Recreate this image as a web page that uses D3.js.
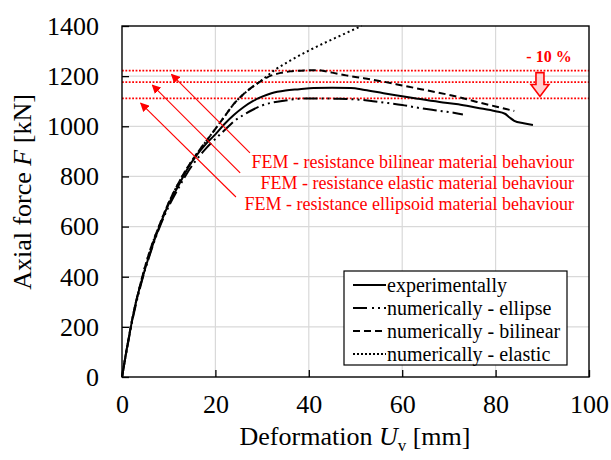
<!DOCTYPE html>
<html><head><meta charset="utf-8">
<script src="https://cdn.jsdelivr.net/npm/d3@7"></script>
<style>body{margin:0;background:#fff}svg{display:block}svg text{font-family:"Liberation Serif","Times New Roman",serif}</style>
</head><body><svg id="c" width="611" height="460" font-family="Liberation Serif, Times New Roman, serif"></svg>
<script>
// ---- data ----
const xTicks = [0, 20, 40, 60, 80, 100];
const yTicks = [0, 200, 400, 600, 800, 1000, 1200, 1400];
const experimental = [[0,0],[1,110],[2,210],[3,300],[4,370],[6,495],[8,600],[10,690],[12,760],[14,830],[16,885],[18,930],[20,968],[22,1010],[24,1046],[26,1076],[28,1100],[30,1118],[32,1132],[35,1143],[38,1148],[41,1153],[45,1154],[49,1153],[52,1145],[56,1132],[60,1120],[63,1111],[68,1097],[72,1088],[76,1074],[80,1060],[82,1050],[83,1035],[84,1022],[86,1012],[88,1005]];
const ellipse = [[0,0],[1,105],[2,205],[4,365],[6,490],[8,595],[10,680],[12,750],[14,815],[16,868],[18,912],[20,950],[22,985],[24,1020],[26,1045],[28,1066],[30,1083],[32,1094],[35,1103],[38,1110],[42,1111],[46,1110],[50,1107],[53,1102],[56,1095],[60,1085],[63,1075],[67,1064],[71,1054],[73,1047]];
const bilinear = [[0,0],[1,110],[2,212],[4,375],[6,505],[8,605],[10,695],[12,770],[14,835],[16,890],[18,940],[20,990],[22,1040],[24,1090],[26,1128],[28,1158],[30,1183],[32,1203],[34,1213],[36,1219],[39,1223],[42,1224],[45,1214],[48,1203],[52,1191],[56,1178],[60,1163],[64,1148],[67,1137],[72,1117],[76,1097],[80,1079],[84,1061]];
const elastic = [[0,0],[1,110],[2,212],[4,375],[6,505],[8,605],[10,695],[12,770],[14,835],[16,890],[18,940],[20,990],[22,1040],[24,1090],[26,1128],[28,1158],[30,1185],[33,1228],[36,1262],[40,1302],[44,1338],[48,1372],[51.3,1400]];
const seriesNames = ["experimentally", "numerically - ellipse", "numerically - bilinear", "numerically - elastic"];
const resistanceValues = [1222, 1176, 1111];
const resistanceLabels = ["FEM - resistance bilinear material behaviour", "FEM - resistance elastic material behaviour", "FEM - resistance ellipsoid material behaviour"];
// annotation arrows: tip and tail in data units
const arrowTips = [[10.6, 1207], [6.5, 1164], [4.0, 1092]];
const arrowTails = [[27.4, 894], [25.3, 814], [24.4, 718]];
const reductionLabel = "- 10 %";

// ---- layout ----
const FONT = '"Liberation Serif","Times New Roman",serif';
const L = 122, R = 589, T = 26, B = 377;
const svg = d3.select("#c");
const x = d3.scaleLinear().domain([0, 100]).range([L, R]);
const y = d3.scaleLinear().domain([0, 1400]).range([B, T]);
const red = "#ff0000";

// grid
svg.append("g").selectAll("line").data(yTicks.slice(1, -1)).join("line")
  .attr("x1", L).attr("x2", R).attr("y1", d => y(d)).attr("y2", d => y(d))
  .attr("stroke", "#d9d9d9").attr("stroke-width", 1.2);
svg.append("g").selectAll("line").data(xTicks.slice(1, -1)).join("line")
  .attr("y1", T).attr("y2", B).attr("x1", d => x(d)).attr("x2", d => x(d))
  .attr("stroke", "#d9d9d9").attr("stroke-width", 1.2);

// resistance lines
svg.append("g").selectAll("line").data(resistanceValues).join("line")
  .attr("x1", L).attr("x2", R).attr("y1", d => y(d)).attr("y2", d => y(d))
  .attr("stroke", red).attr("stroke-width", 1.8).attr("stroke-dasharray", "1.8,1.6");

// axes
const fmt = d3.format("d");
const ax = svg.append("g").attr("transform", `translate(0,${B})`)
  .call(d3.axisBottom(x).tickValues(xTicks).tickFormat(fmt).tickSizeInner(-7).tickSizeOuter(0).tickPadding(18));
const ay = svg.append("g").attr("transform", `translate(${L},0)`)
  .call(d3.axisLeft(y).tickValues(yTicks).tickFormat(fmt).tickSizeInner(-7).tickSizeOuter(0).tickPadding(23));
[ax, ay].forEach(g => {
  g.attr("font-family", FONT);
  g.select(".domain").remove();
  g.selectAll("line").attr("stroke", "#000").attr("stroke-width", 1.3);
  g.selectAll("text").attr("font-size", 26).attr("fill", "#000").attr("font-family", FONT);
});
// frame
svg.append("rect").attr("x", L).attr("y", T).attr("width", R - L).attr("height", B - T)
  .attr("fill", "none").attr("stroke", "#000").attr("stroke-width", 1.4);

// curves
const line = d3.line().x(d => x(d[0])).y(d => y(d[1])).curve(d3.curveMonotoneX);
const styles = [
  { data: experimental, dash: null },
  { data: ellipse, dash: "14,4,2,4,2,4" },
  { data: bilinear, dash: "7,4" },
  { data: elastic, dash: "2,3" }
];
styles.forEach(s => {
  svg.append("path").attr("d", line(s.data)).attr("fill", "none")
    .attr("stroke", "#000").attr("stroke-width", 2)
    .attr("stroke-dasharray", s.dash);
});

// annotation arrows
const defs = svg.append("defs");
defs.append("marker").attr("id", "ah").attr("viewBox", "0 0 10 10").attr("refX", 9).attr("refY", 5)
  .attr("markerWidth", 9).attr("markerHeight", 9).attr("markerUnits", "userSpaceOnUse").attr("orient", "auto")
  .append("path").attr("d", "M0,0 L10,5 L0,10 z").attr("fill", red);
arrowTips.forEach((tip, i) => {
  svg.append("line")
    .attr("x1", x(arrowTails[i][0])).attr("y1", y(arrowTails[i][1]))
    .attr("x2", x(tip[0])).attr("y2", y(tip[1]))
    .attr("stroke", red).attr("stroke-width", 1.1).attr("marker-end", "url(#ah)");
});
svg.append("g").selectAll("text").data(resistanceLabels).join("text")
  .attr("x", 574).attr("y", (d, i) => 168 + i * 21).attr("text-anchor", "end")
  .attr("font-family", FONT).attr("font-size", 18).attr("fill", red).text(d => d);

// -10% block arrow
const ax0 = x(89.5), yTop = y(resistanceValues[0]) + 2, yTip = y(resistanceValues[2]) - 2;
svg.append("path")
  .attr("d", `M${ax0-4},${yTop} L${ax0+4},${yTop} L${ax0+4},${yTip-12} L${ax0+9},${yTip-12} L${ax0},${yTip} L${ax0-9},${yTip-12} L${ax0-4},${yTip-12} Z`)
  .attr("fill", "#ffd0d0").attr("stroke", red).attr("stroke-width", 1.6);
svg.append("text").attr("x", ax0 + 9).attr("y", 62).attr("text-anchor", "middle")
  .attr("font-family", FONT).attr("font-size", 16).attr("font-weight", "bold").attr("fill", red).text(reductionLabel);

// legend
const lg = svg.append("g");
lg.append("rect").attr("x", 344).attr("y", 271).attr("width", 223).attr("height", 94)
  .attr("fill", "#fff").attr("stroke", "#000").attr("stroke-width", 1.2);
const legendDash = [null, "14,5,2,4,2,4", "7,4", "2,2"];
seriesNames.forEach((n, i) => {
  const yy = 285 + i * 23;
  lg.append("line").attr("x1", 353).attr("x2", 386).attr("y1", yy).attr("y2", yy)
    .attr("stroke", "#000").attr("stroke-width", 2).attr("stroke-dasharray", legendDash[i]);
  lg.append("text").attr("x", 387).attr("y", yy).attr("dy", "0.33em")
    .attr("font-family", FONT).attr("font-size", 20).text(n);
});

// axis titles
const xt = svg.append("text").attr("x", 355).attr("y", 445).attr("text-anchor", "middle")
  .attr("font-family", FONT).attr("font-size", 26);
xt.append("tspan").text("Deformation ");
xt.append("tspan").attr("font-style", "italic").text("U");
xt.append("tspan").attr("font-size", 17).attr("dy", 6).text("v");
xt.append("tspan").attr("dy", -6).text(" [mm]");
const yt = svg.append("text").attr("transform", "translate(31,192) rotate(-90)").attr("text-anchor", "middle")
  .attr("font-family", FONT).attr("font-size", 26);
yt.append("tspan").text("Axial force ");
yt.append("tspan").attr("font-style", "italic").text("F");
yt.append("tspan").text(" [kN]");
</script></body></html>
